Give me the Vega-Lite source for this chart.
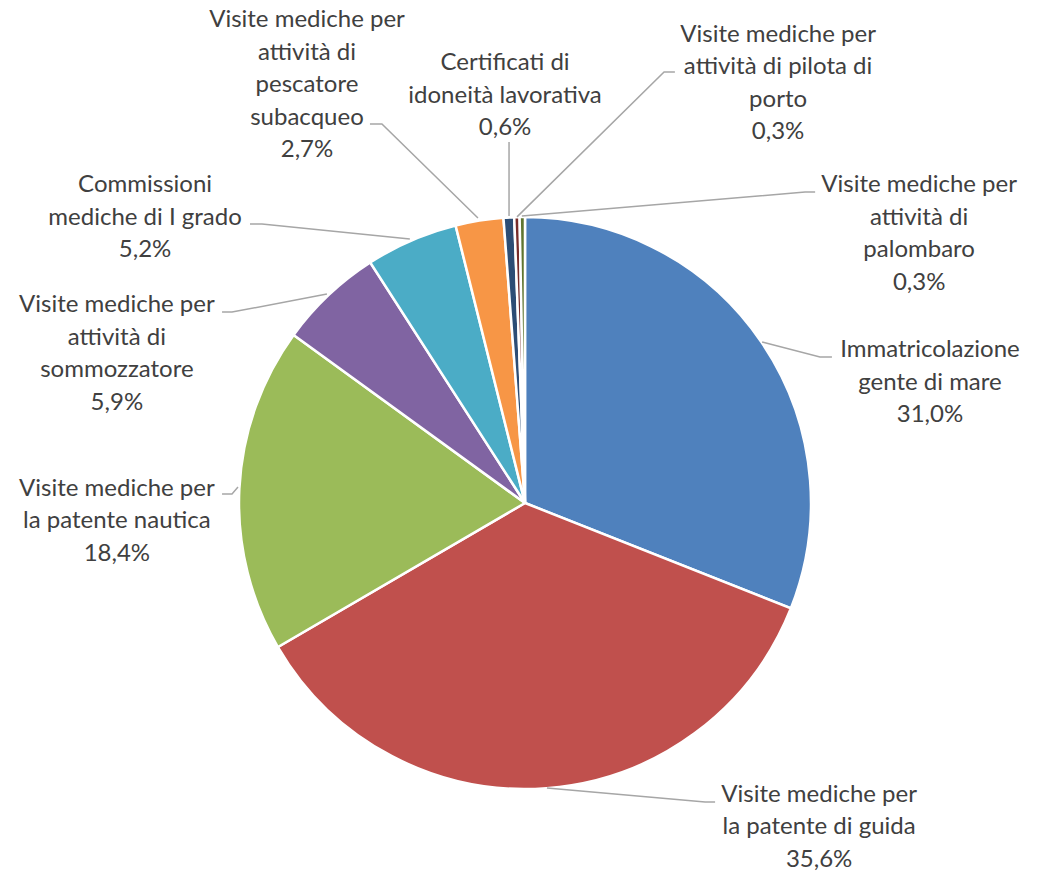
{
  "$schema": "https://vega.github.io/schema/vega-lite/v6.json",
  "width": 1045,
  "height": 872,
  "autosize": {"type": "fit", "contains": "padding"},
  "padding": 0,
  "background": "white",
  "config": {"view": {"stroke": null}},
  "datasets": {
    "slices": [
      {"cat": "Immatricolazione gente di mare", "pct": 31.0, "o": 1},
      {"cat": "Visite mediche per la patente di guida", "pct": 35.6, "o": 2},
      {"cat": "Visite mediche per la patente nautica", "pct": 18.4, "o": 3},
      {"cat": "Visite mediche per attività di sommozzatore", "pct": 5.9, "o": 4},
      {"cat": "Commissioni mediche di I grado", "pct": 5.2, "o": 5},
      {"cat": "Visite mediche per attività di pescatore subacqueo", "pct": 2.7, "o": 6},
      {"cat": "Certificati di idoneità lavorativa", "pct": 0.6, "o": 7},
      {"cat": "Visite mediche per attività di pilota di porto", "pct": 0.3, "o": 8},
      {"cat": "Visite mediche per attività di palombaro", "pct": 0.3, "o": 9}
    ],
    "labels": [
      {"cat": "Immatricolazione gente di mare", "label": "Immatricolazione\ngente di mare\n31,0%", "lx": 1.421, "ly": 0.512},
      {"cat": "Visite mediche per la patente di guida", "label": "Visite mediche per\nla patente di guida\n35,6%", "lx": 1.032, "ly": -1.049},
      {"cat": "Visite mediche per la patente nautica", "label": "Visite mediche per\nla patente nautica\n18,4%", "lx": -1.432, "ly": 0.025},
      {"cat": "Visite mediche per attività di sommozzatore", "label": "Visite mediche per\nattività di\nsommozzatore\n5,9%", "lx": -1.432, "ly": 0.670},
      {"cat": "Commissioni mediche di I grado", "label": "Commissioni\nmediche di I grado\n5,2%", "lx": -1.333, "ly": 1.091},
      {"cat": "Visite mediche per attività di pescatore subacqueo", "label": "Visite mediche per\nattività di\npescatore\nsubacqueo\n2,7%", "lx": -0.765, "ly": 1.670},
      {"cat": "Certificati di idoneità lavorativa", "label": "Certificati di\nidoneità lavorativa\n0,6%", "lx": -0.070, "ly": 1.519},
      {"cat": "Visite mediche per attività di pilota di porto", "label": "Visite mediche per\nattività di pilota di\nporto\n0,3%", "lx": 0.888, "ly": 1.618},
      {"cat": "Visite mediche per attività di palombaro", "label": "Visite mediche per\nattività di\npalombaro\n0,3%", "lx": 1.383, "ly": 1.091}
    ],
    "leaders": [
      {"cat": "Immatricolazione gente di mare", "i": 1, "px": 0.832, "py": 0.565},
      {"cat": "Immatricolazione gente di mare", "i": 2, "px": 1.035, "py": 0.512},
      {"cat": "Immatricolazione gente di mare", "i": 3, "px": 1.077, "py": 0.512},
      {"cat": "Visite mediche per la patente di guida", "i": 1, "px": 0.077, "py": -1.0},
      {"cat": "Visite mediche per la patente di guida", "i": 2, "px": 0.632, "py": -1.049},
      {"cat": "Visite mediche per la patente di guida", "i": 3, "px": 0.667, "py": -1.049},
      {"cat": "Visite mediche per la patente nautica", "i": 1, "px": -1.007, "py": 0.056},
      {"cat": "Visite mediche per la patente nautica", "i": 2, "px": -1.028, "py": 0.032},
      {"cat": "Visite mediche per la patente nautica", "i": 3, "px": -1.063, "py": 0.032},
      {"cat": "Visite mediche per attività di sommozzatore", "i": 1, "px": -0.695, "py": 0.733},
      {"cat": "Visite mediche per attività di sommozzatore", "i": 2, "px": -1.028, "py": 0.670},
      {"cat": "Visite mediche per attività di sommozzatore", "i": 3, "px": -1.063, "py": 0.670},
      {"cat": "Commissioni mediche di I grado", "i": 1, "px": -0.404, "py": 0.926},
      {"cat": "Commissioni mediche di I grado", "i": 2, "px": -0.923, "py": 0.979},
      {"cat": "Commissioni mediche di I grado", "i": 3, "px": -0.965, "py": 0.979},
      {"cat": "Visite mediche per attività di pescatore subacqueo", "i": 1, "px": -0.165, "py": 1.0},
      {"cat": "Visite mediche per attività di pescatore subacqueo", "i": 2, "px": -0.502, "py": 1.330},
      {"cat": "Visite mediche per attività di pescatore subacqueo", "i": 3, "px": -0.544, "py": 1.330},
      {"cat": "Certificati di idoneità lavorativa", "i": 1, "px": -0.056, "py": 1.007},
      {"cat": "Certificati di idoneità lavorativa", "i": 2, "px": -0.056, "py": 1.267},
      {"cat": "Visite mediche per attività di pilota di porto", "i": 1, "px": -0.028, "py": 1.004},
      {"cat": "Visite mediche per attività di pilota di porto", "i": 2, "px": 0.488, "py": 1.512},
      {"cat": "Visite mediche per attività di pilota di porto", "i": 3, "px": 0.526, "py": 1.512},
      {"cat": "Visite mediche per attività di palombaro", "i": 1, "px": -0.011, "py": 1.007},
      {"cat": "Visite mediche per attività di palombaro", "i": 2, "px": 0.983, "py": 1.091},
      {"cat": "Visite mediche per attività di palombaro", "i": 3, "px": 1.018, "py": 1.091}
    ]
  },
  "layer": [
    {
      "data": {"name": "slices"},
      "mark": {"type": "arc", "outerRadius": 286, "stroke": "white", "strokeWidth": 2.5},
      "encoding": {
        "x": {"datum": 0, "type": "quantitative", "scale": {"domain": [-1.8421, 1.8246], "nice": false, "zero": false}, "axis": null},
        "y": {"datum": 0, "type": "quantitative", "scale": {"domain": [-1.2947, 1.7649], "nice": false, "zero": false}, "axis": null},
        "theta": {"field": "pct", "type": "quantitative", "stack": true},
        "order": {"field": "o", "type": "quantitative"},
        "color": {
          "field": "cat", "type": "nominal", "legend": null,
          "scale": {
            "domain": ["Immatricolazione gente di mare", "Visite mediche per la patente di guida", "Visite mediche per la patente nautica", "Visite mediche per attività di sommozzatore", "Commissioni mediche di I grado", "Visite mediche per attività di pescatore subacqueo", "Certificati di idoneità lavorativa", "Visite mediche per attività di pilota di porto", "Visite mediche per attività di palombaro"],
            "range": ["#4F81BD", "#C0504D", "#9BBB59", "#8064A2", "#4BACC6", "#F79646", "#2C4D75", "#772C2A", "#5F7530"]
          }
        }
      }
    },
    {
      "data": {"name": "leaders"},
      "mark": {"type": "line", "color": "#A6A6A6", "strokeWidth": 1.5},
      "encoding": {
        "x": {"field": "px", "type": "quantitative", "axis": null},
        "y": {"field": "py", "type": "quantitative", "axis": null},
        "detail": {"field": "cat"},
        "order": {"field": "i", "type": "quantitative"}
      }
    },
    {
      "data": {"name": "labels"},
      "mark": {"type": "text", "font": "Lato", "fontSize": 24, "color": "#404040", "align": "center", "baseline": "alphabetic", "lineBreak": "\n", "lineHeight": 32.5},
      "encoding": {
        "x": {"field": "lx", "type": "quantitative", "axis": null},
        "y": {"field": "ly", "type": "quantitative", "axis": null},
        "text": {"field": "label", "type": "nominal"}
      }
    }
  ]
}
